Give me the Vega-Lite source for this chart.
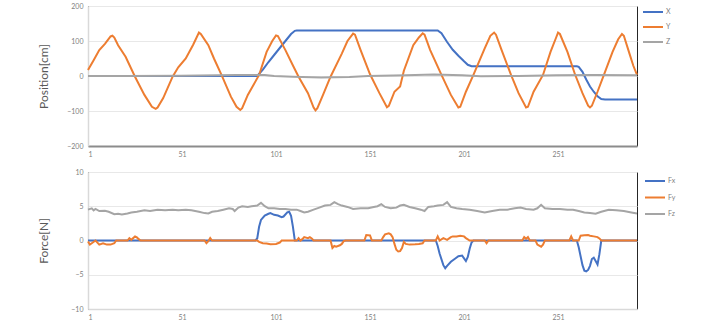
{
  "$schema": "https://vega.github.io/schema/vega-lite/v6.json",
  "padding": {"left": 36, "top": 1, "right": 5, "bottom": 0},
  "background": "white",
  "spacing": 6,
  "resolve": {"scale": {"color": "independent"}, "legend": {"color": "independent"}},
  "config": {
    "font": "Lato",
    "view": {"stroke": "#262626", "strokeWidth": 1},
    "axis": {"labelFont": "Lato", "labelFontSize": 7, "labelColor": "#7f7f7f", "ticks": false, "titleFont": "Lato", "titleFontSize": 12, "titleFontWeight": "normal", "titleColor": "#595959", "gridColor": "#e8e8e8", "domainColor": "#d9d9d9", "domainWidth": 1.5},
    "axisY": {"labelPadding": 5, "minExtent": 28, "maxExtent": 28, "titlePadding": 10},
    "axisX": {"labelPadding": 4, "minExtent": 14, "maxExtent": 14, "grid": false},
    "legend": {"labelFont": "Lato", "labelFontSize": 7, "labelColor": "#7f7f7f", "symbolType": "M-2,0H2", "symbolSize": 100, "symbolStrokeWidth": 2, "symbolFillColor": "transparent", "labelOffset": 7, "title": null, "orient": "none"}
  },
  "datasets": {
    "pos": [
      {"s":"X","i":1,"v":0},{"s":"X","i":91,"v":0},{"s":"X","i":94,"v":18},{"s":"X","i":97,"v":40},{"s":"X","i":100,"v":60},{"s":"X","i":103,"v":80},{"s":"X","i":106,"v":100},{"s":"X","i":109,"v":120},{"s":"X","i":111,"v":129},{"s":"X","i":112,"v":130},{"s":"X","i":187,"v":130},{"s":"X","i":189,"v":122},{"s":"X","i":192,"v":97},{"s":"X","i":195,"v":75},{"s":"X","i":198,"v":58},{"s":"X","i":201,"v":42},{"s":"X","i":203,"v":32},{"s":"X","i":205,"v":28},{"s":"X","i":261,"v":28},{"s":"X","i":262,"v":26},{"s":"X","i":264,"v":12},{"s":"X","i":266,"v":-10},{"s":"X","i":268,"v":-30},{"s":"X","i":270,"v":-45},{"s":"X","i":272,"v":-58},{"s":"X","i":274,"v":-66},{"s":"X","i":276,"v":-67},{"s":"X","i":293,"v":-67},
      {"s":"Y","i":1,"v":17},{"s":"Y","i":4,"v":45},{"s":"Y","i":7,"v":74},{"s":"Y","i":10,"v":92},{"s":"Y","i":13,"v":113},{"s":"Y","i":14,"v":115},{"s":"Y","i":15,"v":110},{"s":"Y","i":17,"v":88},{"s":"Y","i":21,"v":55},{"s":"Y","i":26,"v":-2},{"s":"Y","i":31,"v":-54},{"s":"Y","i":35,"v":-88},{"s":"Y","i":37,"v":-94},{"s":"Y","i":38,"v":-90},{"s":"Y","i":41,"v":-63},{"s":"Y","i":46,"v":-2},{"s":"Y","i":49,"v":25},{"s":"Y","i":53,"v":50},{"s":"Y","i":57,"v":90},{"s":"Y","i":60,"v":124},{"s":"Y","i":61,"v":120},{"s":"Y","i":65,"v":88},{"s":"Y","i":68,"v":50},{"s":"Y","i":72,"v":3},{"s":"Y","i":77,"v":-59},{"s":"Y","i":80,"v":-88},{"s":"Y","i":82,"v":-97},{"s":"Y","i":83,"v":-92},{"s":"Y","i":86,"v":-54},{"s":"Y","i":92,"v":3},{"s":"Y","i":96,"v":69},{"s":"Y","i":99,"v":100},{"s":"Y","i":101,"v":116},{"s":"Y","i":102,"v":114},{"s":"Y","i":106,"v":74},{"s":"Y","i":110,"v":30},{"s":"Y","i":113,"v":-2},{"s":"Y","i":118,"v":-49},{"s":"Y","i":121,"v":-90},{"s":"Y","i":122,"v":-98},{"s":"Y","i":123,"v":-92},{"s":"Y","i":126,"v":-54},{"s":"Y","i":130,"v":-2},{"s":"Y","i":136,"v":64},{"s":"Y","i":139,"v":100},{"s":"Y","i":142,"v":121},{"s":"Y","i":143,"v":118},{"s":"Y","i":146,"v":74},{"s":"Y","i":151,"v":5},{"s":"Y","i":156,"v":-49},{"s":"Y","i":160,"v":-89},{"s":"Y","i":161,"v":-85},{"s":"Y","i":164,"v":-45},{"s":"Y","i":167,"v":-30},{"s":"Y","i":169,"v":15},{"s":"Y","i":174,"v":88},{"s":"Y","i":177,"v":110},{"s":"Y","i":179,"v":122},{"s":"Y","i":180,"v":118},{"s":"Y","i":183,"v":74},{"s":"Y","i":189,"v":3},{"s":"Y","i":194,"v":-54},{"s":"Y","i":198,"v":-90},{"s":"Y","i":199,"v":-88},{"s":"Y","i":202,"v":-45},{"s":"Y","i":206,"v":3},{"s":"Y","i":212,"v":79},{"s":"Y","i":215,"v":115},{"s":"Y","i":217,"v":124},{"s":"Y","i":218,"v":118},{"s":"Y","i":221,"v":74},{"s":"Y","i":226,"v":3},{"s":"Y","i":230,"v":-49},{"s":"Y","i":234,"v":-90},{"s":"Y","i":235,"v":-88},{"s":"Y","i":238,"v":-45},{"s":"Y","i":243,"v":3},{"s":"Y","i":247,"v":69},{"s":"Y","i":250,"v":110},{"s":"Y","i":251,"v":124},{"s":"Y","i":252,"v":120},{"s":"Y","i":256,"v":69},{"s":"Y","i":260,"v":5},{"s":"Y","i":264,"v":-49},{"s":"Y","i":267,"v":-85},{"s":"Y","i":268,"v":-90},{"s":"Y","i":269,"v":-85},{"s":"Y","i":272,"v":-45},{"s":"Y","i":276,"v":12},{"s":"Y","i":280,"v":69},{"s":"Y","i":283,"v":105},{"s":"Y","i":285,"v":120},{"s":"Y","i":286,"v":115},{"s":"Y","i":289,"v":64},{"s":"Y","i":291,"v":30},{"s":"Y","i":293,"v":3},
      {"s":"Z","i":1,"v":0},{"s":"Z","i":20,"v":0},{"s":"Z","i":50,"v":1},{"s":"Z","i":80,"v":3},{"s":"Z","i":95,"v":3},{"s":"Z","i":100,"v":0},{"s":"Z","i":110,"v":-2},{"s":"Z","i":125,"v":-4},{"s":"Z","i":140,"v":-3},{"s":"Z","i":150,"v":0},{"s":"Z","i":170,"v":2},{"s":"Z","i":185,"v":4},{"s":"Z","i":200,"v":2},{"s":"Z","i":210,"v":-1},{"s":"Z","i":230,"v":0},{"s":"Z","i":250,"v":2},{"s":"Z","i":270,"v":3},{"s":"Z","i":293,"v":2}
    ],
    "force": [
      {"s":"Fx","i":1,"v":0},{"s":"Fx","i":90,"v":0},{"s":"Fx","i":91,"v":0.3},{"s":"Fx","i":92,"v":2.0},{"s":"Fx","i":93,"v":3.0},{"s":"Fx","i":95,"v":3.65},{"s":"Fx","i":97,"v":3.9},{"s":"Fx","i":98,"v":4.0},{"s":"Fx","i":100,"v":3.75},{"s":"Fx","i":102,"v":3.65},{"s":"Fx","i":104,"v":3.4},{"s":"Fx","i":105,"v":3.5},{"s":"Fx","i":107,"v":4.1},{"s":"Fx","i":108,"v":4.2},{"s":"Fx","i":109,"v":3.6},{"s":"Fx","i":110,"v":2.0},{"s":"Fx","i":111,"v":0},{"s":"Fx","i":186,"v":0},{"s":"Fx","i":187,"v":-0.8},{"s":"Fx","i":188,"v":-1.9},{"s":"Fx","i":190,"v":-3.6},{"s":"Fx","i":191,"v":-4.05},{"s":"Fx","i":192,"v":-3.7},{"s":"Fx","i":194,"v":-3.1},{"s":"Fx","i":196,"v":-2.7},{"s":"Fx","i":198,"v":-2.3},{"s":"Fx","i":200,"v":-2.2},{"s":"Fx","i":202,"v":-3.0},{"s":"Fx","i":203,"v":-2.4},{"s":"Fx","i":204,"v":-1.2},{"s":"Fx","i":205,"v":-0.3},{"s":"Fx","i":206,"v":0},{"s":"Fx","i":261,"v":0},{"s":"Fx","i":262,"v":-1.0},{"s":"Fx","i":263,"v":-2.3},{"s":"Fx","i":264,"v":-3.6},{"s":"Fx","i":265,"v":-4.4},{"s":"Fx","i":266,"v":-4.5},{"s":"Fx","i":267,"v":-4.3},{"s":"Fx","i":268,"v":-3.7},{"s":"Fx","i":269,"v":-2.7},{"s":"Fx","i":270,"v":-2.5},{"s":"Fx","i":271,"v":-3.0},{"s":"Fx","i":272,"v":-3.5},{"s":"Fx","i":273,"v":-2.0},{"s":"Fx","i":274,"v":0},{"s":"Fx","i":293,"v":0},
      {"s":"Fy","i":1,"v":-0.15},{"s":"Fy","i":2,"v":-0.6},{"s":"Fy","i":3,"v":-0.4},{"s":"Fy","i":5,"v":0},{"s":"Fy","i":6,"v":-0.3},{"s":"Fy","i":7,"v":-0.6},{"s":"Fy","i":9,"v":-0.4},{"s":"Fy","i":11,"v":-0.6},{"s":"Fy","i":13,"v":-0.6},{"s":"Fy","i":15,"v":-0.4},{"s":"Fy","i":16,"v":0},{"s":"Fy","i":22,"v":0},{"s":"Fy","i":23,"v":0.35},{"s":"Fy","i":24,"v":0.1},{"s":"Fy","i":26,"v":0.6},{"s":"Fy","i":27,"v":0.45},{"s":"Fy","i":28,"v":0.2},{"s":"Fy","i":29,"v":0},{"s":"Fy","i":63,"v":0},{"s":"Fy","i":64,"v":-0.4},{"s":"Fy","i":65,"v":-0.1},{"s":"Fy","i":66,"v":0.35},{"s":"Fy","i":67,"v":0},{"s":"Fy","i":91,"v":0},{"s":"Fy","i":92,"v":-0.2},{"s":"Fy","i":94,"v":-0.4},{"s":"Fy","i":96,"v":-0.45},{"s":"Fy","i":98,"v":-0.55},{"s":"Fy","i":101,"v":-0.5},{"s":"Fy","i":103,"v":-0.3},{"s":"Fy","i":104,"v":0},{"s":"Fy","i":112,"v":0},{"s":"Fy","i":113,"v":0.35},{"s":"Fy","i":114,"v":0},{"s":"Fy","i":115,"v":0.2},{"s":"Fy","i":116,"v":0.5},{"s":"Fy","i":118,"v":0.35},{"s":"Fy","i":119,"v":0.5},{"s":"Fy","i":120,"v":0.3},{"s":"Fy","i":121,"v":0},{"s":"Fy","i":130,"v":0},{"s":"Fy","i":131,"v":-1.1},{"s":"Fy","i":132,"v":-0.8},{"s":"Fy","i":133,"v":-0.9},{"s":"Fy","i":135,"v":-0.7},{"s":"Fy","i":136,"v":-0.5},{"s":"Fy","i":137,"v":-0.1},{"s":"Fy","i":138,"v":0},{"s":"Fy","i":148,"v":0},{"s":"Fy","i":149,"v":0.8},{"s":"Fy","i":151,"v":0.75},{"s":"Fy","i":152,"v":0},{"s":"Fy","i":157,"v":0},{"s":"Fy","i":158,"v":0.5},{"s":"Fy","i":159,"v":0.9},{"s":"Fy","i":161,"v":1.05},{"s":"Fy","i":162,"v":0.9},{"s":"Fy","i":163,"v":0.5},{"s":"Fy","i":164,"v":-0.5},{"s":"Fy","i":165,"v":-1.35},{"s":"Fy","i":166,"v":-1.6},{"s":"Fy","i":167,"v":-1.55},{"s":"Fy","i":168,"v":-1.1},{"s":"Fy","i":169,"v":-0.2},{"s":"Fy","i":170,"v":-0.5},{"s":"Fy","i":172,"v":-0.6},{"s":"Fy","i":175,"v":-0.55},{"s":"Fy","i":177,"v":-0.5},{"s":"Fy","i":179,"v":-0.4},{"s":"Fy","i":180,"v":0},{"s":"Fy","i":186,"v":0},{"s":"Fy","i":187,"v":0.6},{"s":"Fy","i":188,"v":0},{"s":"Fy","i":190,"v":0.35},{"s":"Fy","i":192,"v":0.1},{"s":"Fy","i":194,"v":0.5},{"s":"Fy","i":195,"v":0.6},{"s":"Fy","i":197,"v":0.6},{"s":"Fy","i":199,"v":0.7},{"s":"Fy","i":201,"v":0.6},{"s":"Fy","i":202,"v":0.35},{"s":"Fy","i":204,"v":0},{"s":"Fy","i":212,"v":0},{"s":"Fy","i":213,"v":-0.4},{"s":"Fy","i":214,"v":0},{"s":"Fy","i":232,"v":0},{"s":"Fy","i":233,"v":0.5},{"s":"Fy","i":234,"v":0.25},{"s":"Fy","i":235,"v":0.5},{"s":"Fy","i":236,"v":0},{"s":"Fy","i":239,"v":0},{"s":"Fy","i":240,"v":-0.6},{"s":"Fy","i":242,"v":-0.9},{"s":"Fy","i":243,"v":-0.6},{"s":"Fy","i":244,"v":0},{"s":"Fy","i":257,"v":0},{"s":"Fy","i":258,"v":0.6},{"s":"Fy","i":259,"v":0},{"s":"Fy","i":262,"v":0},{"s":"Fy","i":263,"v":0.7},{"s":"Fy","i":265,"v":0.75},{"s":"Fy","i":267,"v":0.8},{"s":"Fy","i":268,"v":0.7},{"s":"Fy","i":270,"v":0.6},{"s":"Fy","i":272,"v":0.5},{"s":"Fy","i":273,"v":0.3},{"s":"Fy","i":274,"v":0},{"s":"Fy","i":293,"v":0},
      {"s":"Fz","i":1,"v":4.5},{"s":"Fz","i":3,"v":4.7},{"s":"Fz","i":4,"v":4.4},{"s":"Fz","i":5,"v":4.6},{"s":"Fz","i":7,"v":4.3},{"s":"Fz","i":10,"v":4.35},{"s":"Fz","i":12,"v":4.2},{"s":"Fz","i":15,"v":3.85},{"s":"Fz","i":17,"v":3.9},{"s":"Fz","i":19,"v":3.8},{"s":"Fz","i":22,"v":3.95},{"s":"Fz","i":24,"v":4.1},{"s":"Fz","i":27,"v":4.2},{"s":"Fz","i":31,"v":4.4},{"s":"Fz","i":34,"v":4.3},{"s":"Fz","i":38,"v":4.5},{"s":"Fz","i":42,"v":4.4},{"s":"Fz","i":46,"v":4.5},{"s":"Fz","i":49,"v":4.4},{"s":"Fz","i":53,"v":4.5},{"s":"Fz","i":56,"v":4.4},{"s":"Fz","i":60,"v":4.2},{"s":"Fz","i":63,"v":4.0},{"s":"Fz","i":65,"v":3.95},{"s":"Fz","i":67,"v":4.2},{"s":"Fz","i":70,"v":4.3},{"s":"Fz","i":73,"v":4.5},{"s":"Fz","i":76,"v":4.7},{"s":"Fz","i":78,"v":4.6},{"s":"Fz","i":79,"v":4.3},{"s":"Fz","i":81,"v":4.8},{"s":"Fz","i":83,"v":5.0},{"s":"Fz","i":86,"v":4.9},{"s":"Fz","i":88,"v":5.0},{"s":"Fz","i":91,"v":5.1},{"s":"Fz","i":93,"v":5.5},{"s":"Fz","i":95,"v":5.0},{"s":"Fz","i":97,"v":4.7},{"s":"Fz","i":100,"v":4.7},{"s":"Fz","i":103,"v":4.6},{"s":"Fz","i":106,"v":4.6},{"s":"Fz","i":109,"v":4.5},{"s":"Fz","i":112,"v":4.5},{"s":"Fz","i":114,"v":4.3},{"s":"Fz","i":116,"v":4.1},{"s":"Fz","i":118,"v":4.2},{"s":"Fz","i":121,"v":4.5},{"s":"Fz","i":124,"v":4.8},{"s":"Fz","i":127,"v":5.1},{"s":"Fz","i":130,"v":5.2},{"s":"Fz","i":132,"v":5.6},{"s":"Fz","i":134,"v":5.3},{"s":"Fz","i":136,"v":5.1},{"s":"Fz","i":139,"v":4.9},{"s":"Fz","i":142,"v":4.6},{"s":"Fz","i":146,"v":4.7},{"s":"Fz","i":150,"v":4.7},{"s":"Fz","i":153,"v":4.9},{"s":"Fz","i":155,"v":5.0},{"s":"Fz","i":157,"v":5.3},{"s":"Fz","i":159,"v":4.9},{"s":"Fz","i":162,"v":4.7},{"s":"Fz","i":165,"v":4.8},{"s":"Fz","i":167,"v":5.1},{"s":"Fz","i":169,"v":5.2},{"s":"Fz","i":172,"v":4.9},{"s":"Fz","i":175,"v":4.7},{"s":"Fz","i":178,"v":4.5},{"s":"Fz","i":180,"v":4.3},{"s":"Fz","i":182,"v":4.9},{"s":"Fz","i":185,"v":5.0},{"s":"Fz","i":187,"v":5.1},{"s":"Fz","i":190,"v":5.2},{"s":"Fz","i":192,"v":5.6},{"s":"Fz","i":194,"v":4.9},{"s":"Fz","i":197,"v":4.7},{"s":"Fz","i":200,"v":4.6},{"s":"Fz","i":204,"v":4.5},{"s":"Fz","i":208,"v":4.3},{"s":"Fz","i":212,"v":4.1},{"s":"Fz","i":216,"v":4.3},{"s":"Fz","i":220,"v":4.5},{"s":"Fz","i":224,"v":4.5},{"s":"Fz","i":228,"v":4.7},{"s":"Fz","i":231,"v":4.8},{"s":"Fz","i":234,"v":4.6},{"s":"Fz","i":238,"v":4.5},{"s":"Fz","i":240,"v":4.7},{"s":"Fz","i":242,"v":5.2},{"s":"Fz","i":244,"v":4.7},{"s":"Fz","i":248,"v":4.6},{"s":"Fz","i":252,"v":4.6},{"s":"Fz","i":256,"v":4.5},{"s":"Fz","i":259,"v":4.5},{"s":"Fz","i":262,"v":4.3},{"s":"Fz","i":265,"v":4.1},{"s":"Fz","i":268,"v":4.0},{"s":"Fz","i":271,"v":3.9},{"s":"Fz","i":274,"v":4.2},{"s":"Fz","i":278,"v":4.5},{"s":"Fz","i":282,"v":4.4},{"s":"Fz","i":286,"v":4.3},{"s":"Fz","i":290,"v":4.1},{"s":"Fz","i":293,"v":3.95}
    ]
  },
  "vconcat": [
    {
      "width": 549,
      "height": 140,
      "data": {"name": "pos"},
      "mark": {"type": "line", "strokeWidth": 2},
      "encoding": {
        "x": {"field": "i", "type": "quantitative", "scale": {"domain": [1, 293], "nice": false, "zero": false}, "axis": {"values": [1, 51, 101, 151, 201, 251], "title": null, "domainColor": "#8c8c8c", "domainWidth": 2}},
        "y": {"field": "v", "type": "quantitative", "scale": {"domain": [-200, 200], "nice": false}, "axis": {"values": [-200, -100, 0, 100, 200], "title": "Position[cm]"}},
        "color": {"field": "s", "type": "nominal", "scale": {"domain": ["X", "Y", "Z"], "range": ["#4472C4", "#ED7D31", "#A5A5A5"]}, "legend": {"legendX": 559, "legendY": 0, "rowPadding": 5}}
      }
    },
    {
      "width": 549,
      "height": 137,
      "data": {"name": "force"},
      "mark": {"type": "line", "strokeWidth": 2},
      "encoding": {
        "x": {"field": "i", "type": "quantitative", "scale": {"domain": [1, 293], "nice": false, "zero": false}, "axis": {"values": [1, 51, 101, 151, 201, 251], "title": null}},
        "y": {"field": "v", "type": "quantitative", "scale": {"domain": [-10, 10], "nice": false}, "axis": {"values": [-10, -5, 0, 5, 10], "title": "Force[N]"}},
        "color": {"field": "s", "type": "nominal", "scale": {"domain": ["Fx", "Fy", "Fz"], "range": ["#4472C4", "#ED7D31", "#A5A5A5"]}, "legend": {"legendX": 561, "legendY": 3, "rowPadding": 6.5}}
      }
    }
  ]
}
